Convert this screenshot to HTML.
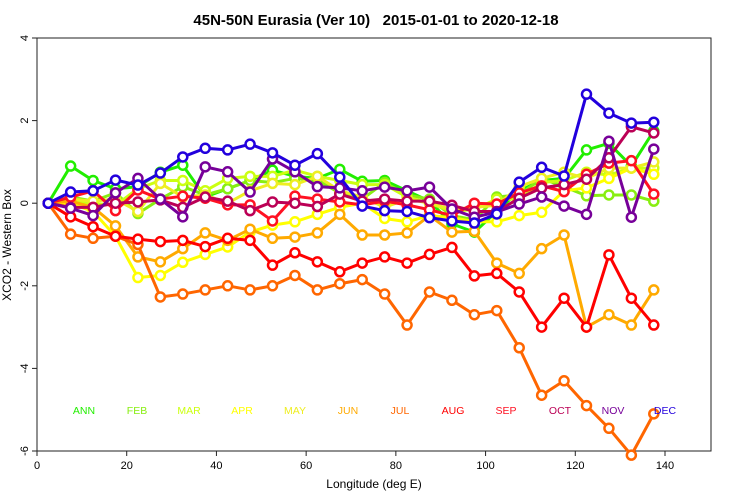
<!DOCTYPE html>
<html><head><meta charset="utf-8"><style>
body{margin:0;background:#fff;}
svg{display:block;font-family:"Liberation Sans",Arial,sans-serif;}
</style></head><body>
<svg id="chart" width="750" height="500">
<text x="376" y="25" text-anchor="middle" font-size="15" font-weight="bold" style="white-space:pre">45N-50N Eurasia (Ver 10)   2015-01-01 to 2020-12-18</text>
<rect x="37" y="38" width="674" height="413" fill="none" stroke="#222" stroke-width="1"/>
<g id="axes"></g>
<g id="series"></g>
<g id="legend"></g>
<text x="374" y="488" text-anchor="middle" font-size="12">Longitude (deg E)</text>
<text transform="translate(11,245) rotate(-90)" text-anchor="middle" font-size="12">XCO2 - Western Box</text>
</svg>
<script>
const longitudes=[2.5,7.5,12.5,17.5,22.5,27.5,32.5,37.5,42.5,47.5,52.5,57.5,62.5,67.5,72.5,77.5,82.5,87.5,92.5,97.5,102.5,107.5,112.5,117.5,122.5,127.5,132.5,137.5];
const months=["ANN","FEB","MAR","APR","MAY","JUN","JUL","AUG","SEP","OCT","NOV","DEC"];
const colors=["#22ee00","#88ee11","#ccff11","#ffff00","#eeee22","#ffaa00","#ff6600","#ff0000","#ff1122","#bb0055","#770099","#2200dd"];
const xTicks=[0,20,40,60,80,100,120,140];
const yTicks=[4,2,0,-2,-4,-6];
const ANN=[0,0.9,0.55,0.35,0.4,0.75,0.92,0.15,0.35,0.55,0.8,0.65,0.6,0.82,0.53,0.55,0.3,0.05,-0.5,-0.7,-0.2,0.3,0.55,0.6,1.29,1.45,0.9,1.75];
const FEB=[0,0.15,0.05,0.25,-0.25,0.1,0.4,0.2,0.35,0.55,0.5,0.6,0.55,0.25,0.1,0.5,0.2,0.1,-0.3,-0.4,0.15,0.2,0.6,0.4,0.18,0.2,0.2,0.05];
const MAR=[0,0.05,0,-0.05,0.35,0.55,0.55,0.3,0.6,0.65,0.65,0.8,0.65,0.55,0.45,0.45,0.15,0,-0.2,-0.15,0.1,0.1,0.5,0.55,0.75,0.68,0.85,0.85];
const APR=[0,0,-0.2,-0.8,-1.8,-1.75,-1.43,-1.24,-1.06,-0.7,-0.53,-0.45,-0.27,-0.1,0,-0.37,-0.45,-0.3,-0.35,-0.45,-0.45,-0.3,-0.22,0.3,0.37,0.6,0.85,0.7];
const MAY=[0,0.1,0.05,0.1,-0.2,0.48,0.15,0.2,0,0.3,0.48,0.45,0.65,0.3,0.15,-0.1,0.1,0,-0.15,-0.1,-0.05,0.4,0.6,0.75,0.6,0.85,0.85,1.0];
const JUN=[0,0.05,-0.1,-0.55,-1.3,-1.42,-1.1,-0.72,-0.9,-0.63,-0.85,-0.82,-0.72,-0.27,-0.77,-0.77,-0.72,-0.3,-0.7,-0.68,-1.45,-1.7,-1.1,-0.77,-3.0,-2.7,-2.95,-2.1];
const JUL=[0,-0.75,-0.85,-0.8,-1.0,-2.27,-2.2,-2.1,-2.0,-2.1,-2.0,-1.75,-2.1,-1.95,-1.85,-2.2,-2.95,-2.15,-2.35,-2.7,-2.6,-3.5,-4.65,-4.3,-4.9,-5.45,-6.1,-5.1];
const AUG=[0,-0.33,-0.57,-0.8,-0.87,-0.93,-0.9,-1.05,-0.85,-0.9,-1.5,-1.2,-1.42,-1.66,-1.45,-1.3,-1.45,-1.24,-1.07,-1.76,-1.7,-2.15,-3.0,-2.3,-3.0,-1.25,-2.3,-2.95];
const SEP=[0,0.15,0.3,-0.18,0.32,0.1,0.17,0.12,-0.04,-0.04,-0.43,0.17,0.1,0.03,-0.04,0.05,-0.04,-0.16,-0.3,0,-0.02,0.25,0.42,0.28,0.7,0.97,1.03,0.22];
const OCT=[0,-0.1,-0.1,0,0.03,0.08,-0.1,0.15,0.05,-0.18,0.03,0,-0.08,0.22,0.05,0.1,0.05,0.05,-0.05,-0.2,-0.2,0.12,0.37,0.45,0.58,1.1,1.85,1.7];
const NOV=[0,-0.12,-0.3,0.25,0.6,0.1,-0.33,0.88,0.76,0.27,1.07,0.76,0.4,0.37,0.3,0.39,0.3,0.39,-0.14,-0.34,-0.21,-0.02,0.15,-0.07,-0.27,1.5,-0.34,1.31];
const DEC=[0,0.27,0.3,0.56,0.44,0.73,1.12,1.33,1.29,1.43,1.22,0.92,1.2,0.63,-0.07,-0.18,-0.2,-0.35,-0.43,-0.48,-0.26,0.51,0.87,0.66,2.64,2.18,1.94,1.96];
const seriesList=[ANN,FEB,MAR,APR,MAY,JUN,JUL,AUG,SEP,OCT,NOV,DEC];
const legendX=[84,137,189,242,295,348,400,453,506,560,613,665];

const NS="http://www.w3.org/2000/svg";
const xS=v=>37+v*(628/140);
const yS=v=>203.2-v*41.3;
function mk(tag,attrs,parent){const e=document.createElementNS(NS,tag);for(const k in attrs)e.setAttribute(k,attrs[k]);parent.appendChild(e);return e;}
const axes=document.getElementById('axes');
xTicks.forEach(t=>{
  const l=mk('line',{x1:xS(t),x2:xS(t),y1:451,y2:456,stroke:'#222'},axes);
  
  
  const tx=mk('text',{x:xS(t),y:469,'text-anchor':'middle','font-size':11},axes);
  tx.textContent=t;
  
  
});
yTicks.forEach(t=>{
  const l=mk('line',{x1:32,x2:37,y1:yS(t),y2:yS(t),stroke:'#222'},axes);
  
  
  const tx=mk('text',{transform:`translate(28,${yS(t)}) rotate(-90)`,'text-anchor':'middle','font-size':11},axes);
  tx.textContent=t;
  
  
});
const sg=document.getElementById('series');
seriesList.forEach((vals,si)=>{
  const g=mk('g',{},sg);
  
  
  const pts=vals.map((v,i)=>xS(longitudes[i])+','+yS(v)).join(' ');
  const pl=mk('polyline',{points:pts,fill:'none',stroke:colors[si],'stroke-width':3,'stroke-linejoin':'round'},g);
  
  
  vals.forEach((v,i)=>{
    const c=mk('circle',{cx:xS(longitudes[i]),cy:yS(v),r:4.5,fill:'#fff',stroke:colors[si],'stroke-width':2.5},g);
    
    
  });
});
const lg=document.getElementById('legend');
months.forEach((m,i)=>{
  const t=mk('text',{x:legendX[i],y:414,'text-anchor':'middle','font-size':10.5,fill:colors[i]},lg);
  t.textContent=m;
  
  
});
</script>
</body></html>
